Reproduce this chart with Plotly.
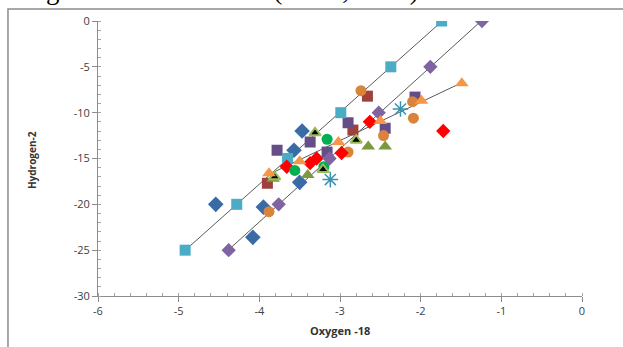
import numpy as np
import plotly.graph_objects as go

# ---- data ----
blue_dia_x = [-4.54, -4.08, -3.95, -3.50, -3.47, -3.57]
blue_dia_y = [-20.0, -23.6, -20.3, -17.6, -12.0, -14.1]

red_sq_x = [-3.90, -2.84, -2.66]
red_sq_y = [-17.7, -11.9, -8.2]

green_tri_x = [-2.65, -2.44, -3.40, -3.83]
green_tri_y = [-13.7, -13.7, -16.8, -17.2]

purple_sq_x = [-3.78, -3.37, -3.16, -2.90, -2.44, -2.07]
purple_sq_y = [-14.1, -13.2, -14.3, -11.1, -11.7, -8.3]

teal_sq_x = [-4.92, -4.28, -3.65, -2.99, -2.37, -1.74]
teal_sq_y = [-25.0, -20.0, -15.0, -10.0, -5.0, 0.0]

orange_circ_x = [-3.88, -2.74, -2.10, -2.09, -2.46, -2.90]
orange_circ_y = [-20.8, -7.6, -8.8, -10.6, -12.5, -14.3]

red_dia_x = [-1.72, -2.63, -3.66, -3.37, -3.29, -2.98]
red_dia_y = [-12.0, -11.0, -15.9, -15.5, -15.0, -14.4]

green_circ_x = [-3.16, -3.56, -3.20]
green_circ_y = [-12.9, -16.3, -15.9]

black_tri_x = [-3.31, -2.80, -3.21, -3.81]
black_tri_y = [-12.2, -13.0, -16.2, -17.0]

purple_dia_x = [-4.38, -3.76, -3.13, -2.52, -1.88, -1.24]
purple_dia_y = [-25.0, -20.0, -15.0, -10.0, -5.0, 0.0]

orange_tri_x = [-3.88, -3.50, -3.02, -2.50, -1.99, -1.49]
orange_tri_y = [-16.6, -15.3, -13.2, -10.9, -8.7, -6.8]

teal_ast_x = [-3.12, -2.25]
teal_ast_y = [-17.3, -9.6]

x_ticks = [-6, -5, -4, -3, -2, -1, 0]
x_tick_labels = ["-6", "-5", "-4", "-3", "-2", "-1", "0"]
y_ticks = [0, -5, -10, -15, -20, -25, -30]
y_tick_labels = ["0", "-5", "-10", "-15", "-20", "-25", "-30"]

fig = go.Figure()

# trendlines
for xs, ys in [(teal_sq_x, teal_sq_y), (purple_dia_x, purple_dia_y), (orange_tri_x, orange_tri_y)]:
    m, c = np.polyfit(xs, ys, 1)
    xr = np.array([min(xs), max(xs)])
    fig.add_trace(go.Scatter(x=xr, y=m * xr + c, mode="lines",
                             line=dict(color="#5A5A5A", width=1), hoverinfo="skip"))

def add(xs, ys, symbol, color, size=11, lc=None, lw=0):
    fig.add_trace(go.Scatter(
        x=xs, y=ys, mode="markers",
        marker=dict(symbol=symbol, color=color, size=size,
                    line=dict(color=lc or color, width=lw))))

add(blue_dia_x, blue_dia_y, "diamond", "#3A6BA5", 12)
add(red_sq_x, red_sq_y, "square", "#9E403C", 11)
add(green_tri_x, green_tri_y, "triangle-up", "#7A9A3D", 12)
add(purple_sq_x, purple_sq_y, "square", "#654D87", 11)
add(teal_sq_x, teal_sq_y, "square", "#4BACC6", 11)
add(orange_circ_x, orange_circ_y, "circle", "#D9843A", 11)
add(red_dia_x, red_dia_y, "diamond", "#FF0000", 11)
add(green_circ_x, green_circ_y, "circle", "#00B050", 11)
add(black_tri_x, black_tri_y, "triangle-up", "#000000", 10, "#9BBB59", 2)
add(purple_dia_x, purple_dia_y, "diamond", "#8064A2", 11)
add(orange_tri_x, orange_tri_y, "triangle-up", "#F79646", 12)
fig.add_trace(go.Scatter(x=teal_ast_x, y=teal_ast_y, mode="markers",
                         marker=dict(symbol="asterisk-open", size=13, color="#3A93B0",
                                     line=dict(color="#3A93B0", width=1.5))))

axis_common = dict(showgrid=False, zeroline=False, showline=True,
                   linecolor="#8C8C8C", linewidth=1, ticks="outside",
                   tickcolor="#8C8C8C", ticklen=5,
                   tickfont=dict(family="Open Sans", size=11, color="#404040"))

fig.update_xaxes(range=[-6, 0], tickvals=x_ticks, ticktext=x_tick_labels, **axis_common,
                 minor=dict(ticks="inside", ticklen=3, tickcolor="#A6A6A6", dtick=0.2))
fig.update_yaxes(range=[-30, 0], tickvals=y_ticks, ticktext=y_tick_labels, **axis_common,
                 minor=dict(ticks="inside", ticklen=3, tickcolor="#A6A6A6", dtick=1))

fig.add_annotation(text="<b>Oxygen -18</b>", x=0.5, y=-0.124, xref="paper", yref="paper",
                   xanchor="center", yanchor="middle", showarrow=False,
                   font=dict(family="Open Sans", size=11, color="#333333"))
fig.add_annotation(text="<b>Hydrogen-2</b>", x=-0.136, y=0.495, xref="paper", yref="paper",
                   xanchor="center", yanchor="middle", textangle=-90, showarrow=False,
                   font=dict(family="Open Sans", size=10, color="#333333"))

# page text above the chart (cut off at top)
fig.add_annotation(text="changes with soil or rock (Barth, 2000).", x=-0.217, y=1.052,
                   xref="paper", yref="paper", xanchor="left", yanchor="bottom",
                   showarrow=False, font=dict(family="Liberation Serif", size=27, color="#000000"))

# chart frame
fig.add_shape(type="rect", xref="paper", yref="paper", x0=-0.186, x1=1.2, y0=-0.3, y1=1.0436,
              line=dict(color="#8C8C8C", width=1.5), fillcolor="rgba(0,0,0,0)")

fig.update_layout(width=623, height=347, showlegend=False,
                  margin=dict(l=98, r=41, t=21, b=51),
                  paper_bgcolor="white", plot_bgcolor="white")

fig.write_html("out.html", config={"displayModeBar": False},
               post_script="document.body.style.margin='0';")
